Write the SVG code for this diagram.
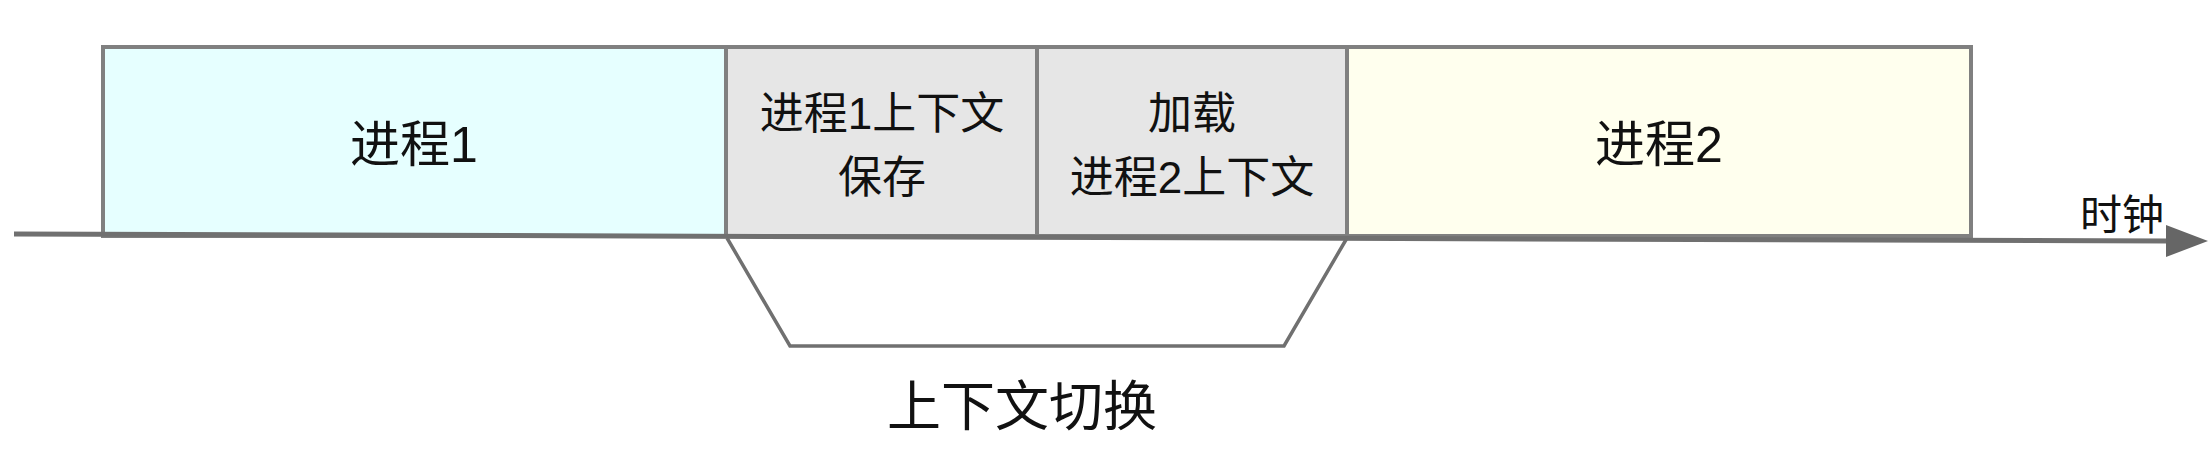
<svg xmlns="http://www.w3.org/2000/svg" width="2212" height="472" viewBox="0 0 2212 472">
<style>
.box{stroke:#808080;stroke-width:4}
.t{font-family:"Liberation Sans","Noto Sans CJK SC",sans-serif;fill:#111111;text-anchor:middle}
.big{font-size:50px}
.mid{font-size:44px}
</style>
<g id="process1">
<rect class="box" x="103" y="47" width="623" height="189" fill="#E6FFFF"/>
<text class="t big" x="414" y="162">进程1</text>
</g>
<g id="save">
<rect class="box" x="726" y="47" width="311" height="189" fill="#E6E6E6"/>
<text class="t mid" x="882" y="129">进程1上下文</text>
<text class="t mid" x="882" y="193">保存</text>
</g>
<g id="load">
<rect class="box" x="1037" y="47" width="310" height="189" fill="#E6E6E6"/>
<text class="t mid" x="1192" y="129">加载</text>
<text class="t mid" x="1192" y="193">进程2上下文</text>
</g>
<g id="process2">
<rect class="box" x="1347" y="47" width="624" height="189" fill="#FFFFEE"/>
<text class="t big" x="1659" y="162">进程2</text>
</g>
<g id="connectors">
<line x1="14" y1="234" x2="2168" y2="241" stroke="#707070" stroke-width="5"/>
<path d="M2166,225 L2208,241 L2166,257 Z" fill="#666666"/>
<polyline points="727,238 790,346 1284,346 1347,238" fill="none" stroke="#707070" stroke-width="3.5"/>
</g>
<g id="labels">
<text class="t" style="font-size:54px" x="1022" y="426">上下文切换</text>
<text class="t" style="font-size:42px" x="2122" y="230">时钟</text>
</g>
</svg>
